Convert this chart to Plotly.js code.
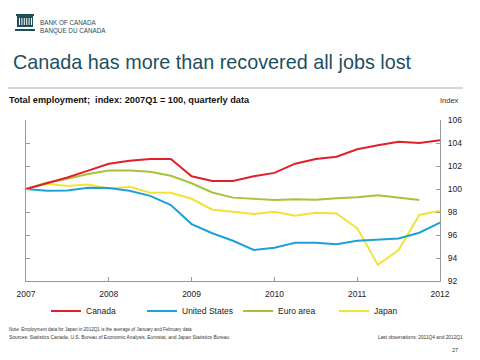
<!DOCTYPE html>
<html>
<head>
<meta charset="utf-8">
<script src="https://cdn.plot.ly/plotly-3.0.1.min.js"></script>
<style>html,body{margin:0;padding:0;background:#fff;}#chart{width:480px;height:360px;}</style>
</head>
<body>
<div id="chart"></div>
<script>
// Quarterly data, 2007Q1 .. 2012Q1 (index 2007Q1 = 100)
const quarters = ["2007Q1","2007Q2","2007Q3","2007Q4","2008Q1","2008Q2","2008Q3","2008Q4","2009Q1","2009Q2","2009Q3","2009Q4","2010Q1","2010Q2","2010Q3","2010Q4","2011Q1","2011Q2","2011Q3","2011Q4","2012Q1"];
const seriesNames = ["Canada","United States","Euro area","Japan"];
const seriesColors = ["#e0202a","#1ea0d8","#a6c43a","#f2e23a"];
const canada   = [100, 100.5, 101.0, 101.6, 102.2, 102.45, 102.6, 102.6, 101.1, 100.7, 100.7, 101.1, 101.4, 102.2, 102.6, 102.8, 103.45, 103.8, 104.1, 104.0, 104.25];
const us       = [100, 99.85, 99.88, 100.1, 100.08, 99.85, 99.4, 98.6, 96.95, 96.15, 95.5, 94.7, 94.9, 95.33, 95.33, 95.2, 95.5, 95.57, 95.7, 96.2, 97.07];
const euroArea = [100, 100.55, 100.9, 101.3, 101.6, 101.6, 101.5, 101.15, 100.5, 99.7, 99.25, 99.13, 99.05, 99.1, 99.07, 99.2, 99.28, 99.45, 99.28, 99.05];
const japan    = [100, 100.45, 100.26, 100.4, 100.05, 100.2, 99.68, 99.68, 99.15, 98.2, 98.03, 97.83, 98.03, 97.68, 97.94, 97.88, 96.6, 93.4, 94.7, 97.74, 98.1];
const xTickVals = [2007, 2008, 2009, 2010, 2011, 2012];
const xTickText = ["2007","2008","2009","2010","2011","2012"];
const yTickVals = [92, 94, 96, 98, 100, 102, 104, 106];

function qToX(q){ return +q.slice(0,4) + (+q.slice(5)-1)/4; }

const allSeries = [canada, us, euroArea, japan];
const traces = allSeries.map((vals, k) => ({
  type: "scatter", mode: "lines",
  name: seriesNames[k],
  x: quarters.slice(0, vals.length).map(qToX),
  y: vals,
  line: {color: seriesColors[k], width: 2},
  hoverinfo: "x+y+name"
}));
// draw order: Japan at bottom, Canada on top
traces.reverse();

const teal = "#1f4f5c";
const font = "Liberation Sans, Arial, sans-serif";

// pixel -> paper helpers (plot area: x 26..440, y 120..281)
function px(x){ return (x-26)/414; }
function py(y){ return (281-y)/161; }

function note(text, x, y, anchor, size, color){
  return {text, xref:"paper", yref:"paper", x:px(x), y:py(y), xanchor:anchor, yanchor:"middle",
          showarrow:false, font:{family:font, size, color}};
}

const layout = {
  width: 480, height: 360,
  margin: {l: 26, r: 40, t: 120, b: 79, pad: 0},
  paper_bgcolor: "#fff", plot_bgcolor: "#fff",
  font: {family: font, size: 8, color: "#222"},
  showlegend: true,
  legend: {orientation: "h", x: px(46), xanchor: "left", y: py(311), yanchor: "middle",
           traceorder: "reversed", entrywidth: 51, entrywidthmode: "pixels",
           font: {family: font, size: 8.5, color: "#222"}, bgcolor: "rgba(0,0,0,0)"},
  xaxis: {range: [2007, 2012], tickvals: xTickVals, ticktext: xTickText,
          showgrid: false, zeroline: false, showline: true, linecolor: "#9a9a9a", linewidth: 1,
          ticks: "inside", ticklen: 4, tickcolor: "#9a9a9a", ticklabelstandoff: 5,
          tickfont: {family: font, size: 8.5, color: "#222"}, fixedrange: true},
  yaxis: {range: [92, 106], tickvals: yTickVals, side: "right",
          showgrid: false, zeroline: false, showline: true, linecolor: "#9a9a9a", linewidth: 1,
          mirror: "ticks", ticks: "inside", ticklen: 4, tickcolor: "#9a9a9a", ticklabelstandoff: 5,
          tickfont: {family: font, size: 8.5, color: "#222"}, fixedrange: true},
  shapes: [
    {type: "line", xref: "paper", yref: "paper", x0: px(8), x1: px(463), y0: py(88), y1: py(88),
     line: {color: "#c3cccc", width: 1.5}}
  ],
  annotations: [
    note("Canada has more than recovered all jobs lost", 11, 62, "left", 19.8, teal),
    note("<b>Total employment;  index: 2007Q1 = 100, quarterly data</b>", 7, 100, "left", 9.2, "#111"),
    note("Index", 461, 100, "right", 7.5, "#333"),
    note("BANK OF CANADA", 38, 22, "left", 6.3, teal),
    note("BANQUE DU CANADA", 38, 31, "left", 6.3, teal),
    note("Note: Employment data for Japan in 2012Q1 is the average of January and February data", 7, 329, "left", 4.6, "#333"),
    note("Sources: Statistics Canada, U.S. Bureau of Economic Analysis, Eurostat, and Japan Statistics Bureau", 7, 337, "left", 4.9, "#333"),
    note("Last observations: 2011Q4 and 2012Q1", 465, 337, "right", 4.8, "#333"),
    note("27", 460, 350, "right", 5.5, "#333")
  ]
};

// logo icon (building) from simple shapes
const logo = [
  {x0:16,x1:34,y0:14,y1:16},   // roof
  {x0:17,x1:33,y0:16,y1:27},   // body
  {x0:15,x1:35,y0:29,y1:31}    // base
];
logo.forEach(r => layout.shapes.push({type:"rect", xref:"paper", yref:"paper",
  x0:px(r.x0), x1:px(r.x1), y0:py(r.y1), y1:py(r.y0), line:{width:0}, fillcolor:teal}));
for (let i = 0; i < 6; i++) {
  const cx = 19 + i*2.4;
  layout.shapes.push({type:"rect", xref:"paper", yref:"paper",
    x0:px(cx), x1:px(cx+1), y0:py(25), y1:py(18), line:{width:0}, fillcolor:"#ffffff"});
}

Plotly.newPlot("chart", traces, layout, {displayModeBar: false, staticPlot: true});
</script>
</body>
</html>
